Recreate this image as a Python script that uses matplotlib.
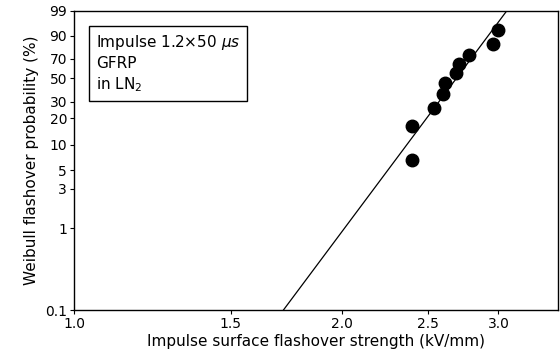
import numpy as np
import matplotlib
matplotlib.use("Agg")
import matplotlib.pyplot as plt
from matplotlib.ticker import FixedLocator, NullLocator

# Data
strength_kv_mm = [2.40, 2.40, 2.54, 2.60, 2.61, 2.69, 2.71, 2.78, 2.96, 3.00]
probability_pct = [6.7, 16.3, 26.0, 35.6, 45.2, 54.8, 64.4, 74.0, 83.7, 93.3]
fit_shape = 14.6
fit_scale = 2.76
y_ticks = [0.1, 1, 3, 5, 10, 20, 30, 50, 70, 90, 99]
y_tick_labels = ["0.1", "1", "3", "5", "10", "20", "30", "50", "70", "90", "99"]
x_ticks = [1.0, 1.5, 2.0, 2.5, 3.0]
x_tick_labels = ["1.0", "1.5", "2.0", "2.5", "3.0"]


def weib(p_pct):
    p = np.asarray(p_pct, dtype=float) / 100.0
    return np.log(-np.log(1.0 - p))


def weib_inv(w):
    return 100.0 * (1.0 - np.exp(-np.exp(w)))


fig = plt.figure(figsize=(5.6, 3.58), dpi=100)
ax = fig.add_axes([74 / 560, 48 / 358, 484 / 560, 299 / 358])

ax.set_xscale("log")
ax.set_yscale("function", functions=(weib, weib_inv))

# fitted Weibull line
xs = np.linspace(1.5, 3.3, 200)
ps = 100.0 * (1.0 - np.exp(-(xs / fit_scale) ** fit_shape))
ax.plot(xs, ps, color="black", lw=0.9)

ax.plot(strength_kv_mm, probability_pct, "o", color="black", ms=9, mec="black")

ax.set_xlim(1.0, 3.5)
ax.set_ylim(0.1, 99)

ax.xaxis.set_major_locator(FixedLocator(x_ticks))
ax.xaxis.set_minor_locator(NullLocator())
ax.set_xticklabels(x_tick_labels)
ax.yaxis.set_major_locator(FixedLocator(y_ticks))
ax.yaxis.set_minor_locator(NullLocator())
ax.set_yticklabels(y_tick_labels)

ax.tick_params(axis="both", direction="out", length=3, width=0.8, labelsize=10, pad=2)
for s in ax.spines.values():
    s.set_linewidth(1.0)

ax.set_xlabel("Impulse surface flashover strength (kV/mm)", fontsize=11, labelpad=2)
ax.set_ylabel("Weibull flashover probability (%)", fontsize=11, labelpad=4)

ax.text(0.046, 0.925, "Impulse 1.2×50 $\\mu s$\nGFRP\nin LN$_2$", transform=ax.transAxes,
        fontsize=11, va="top", ha="left", linespacing=1.3,
        bbox=dict(boxstyle="square,pad=0.45", fc="white", ec="black", lw=1.0))

fig.savefig("out.png", dpi=100)
